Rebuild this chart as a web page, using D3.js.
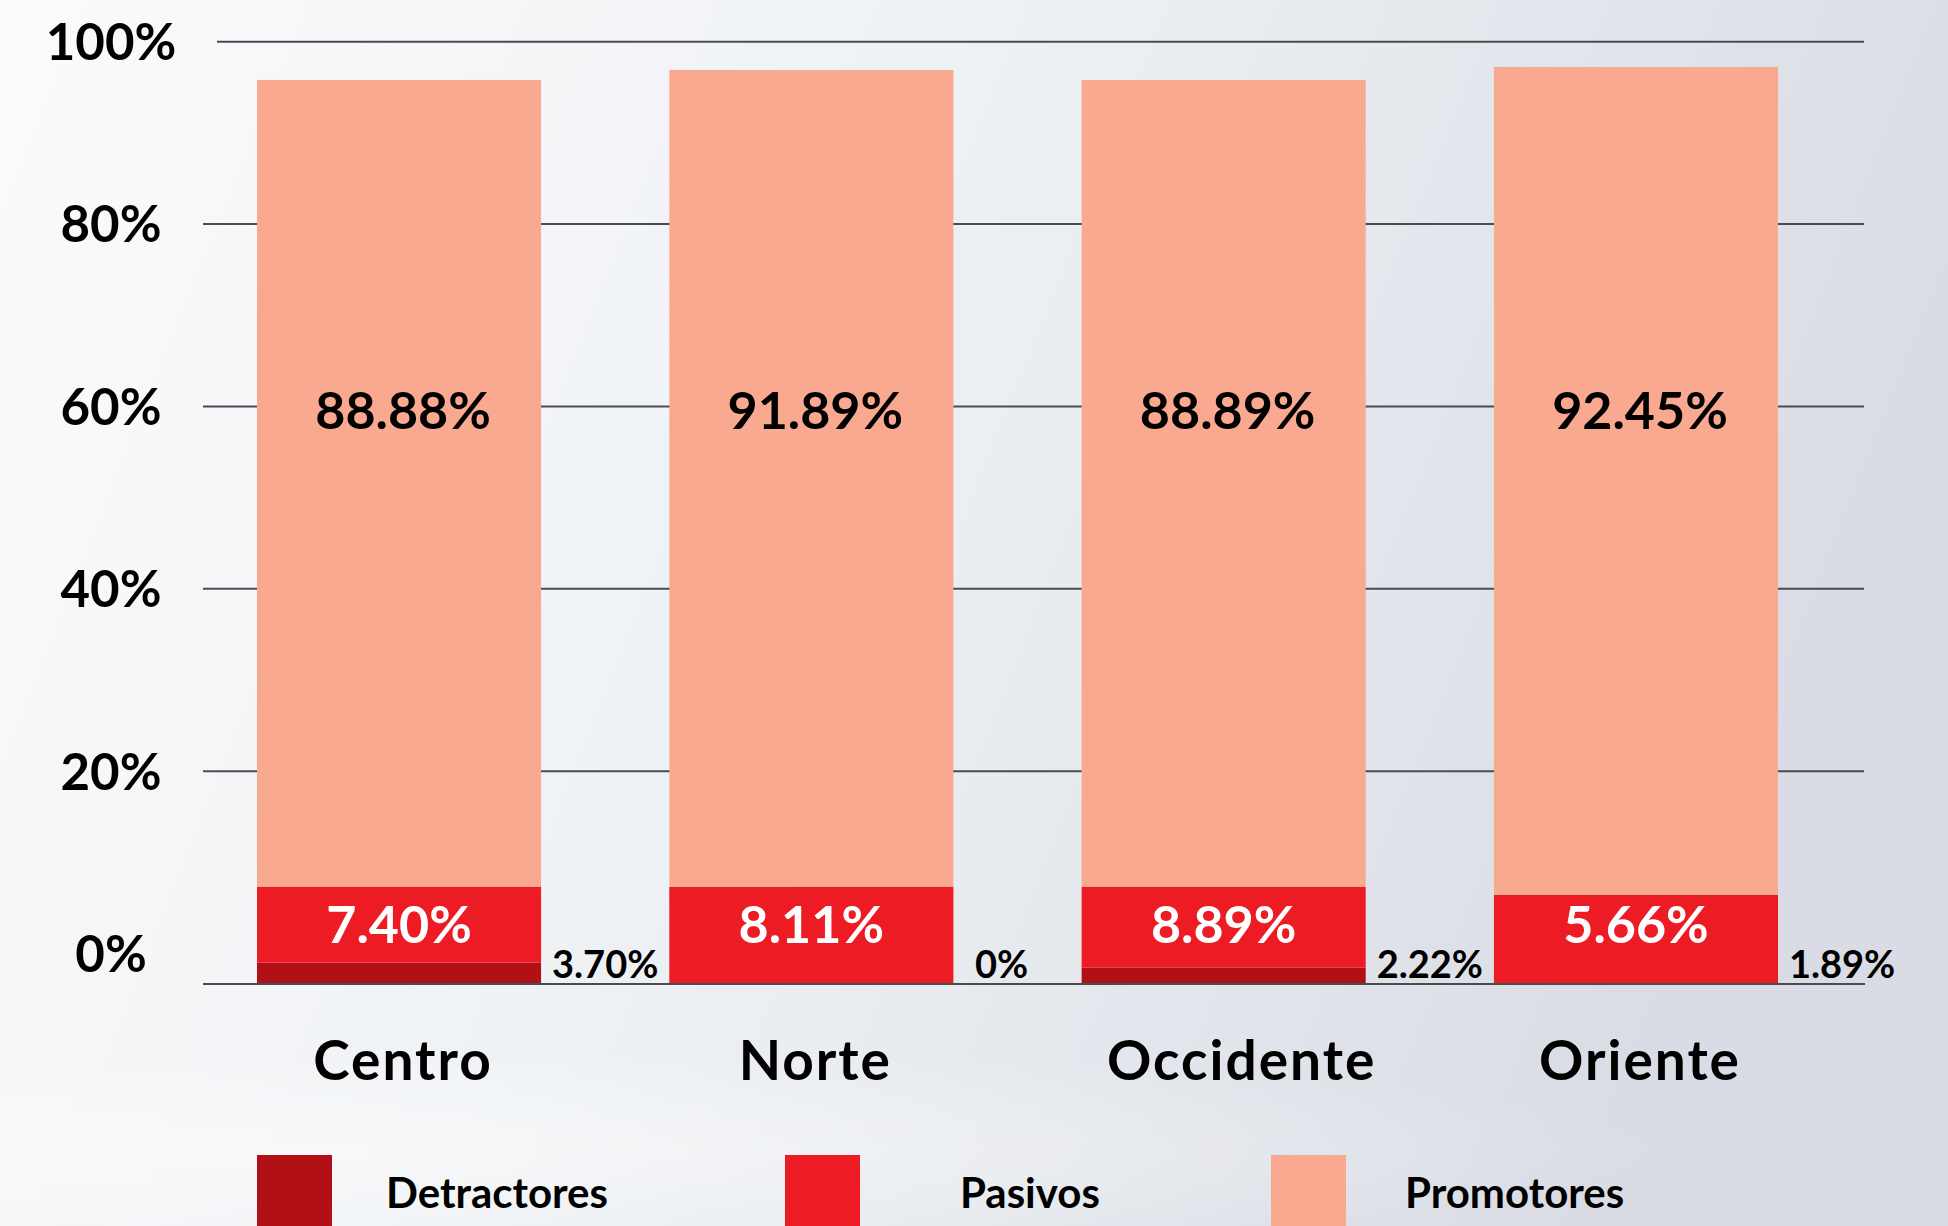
<!DOCTYPE html>
<html>
<head>
<meta charset="utf-8">
<script src="https://cdn.jsdelivr.net/npm/d3@7"></script>
<style>
  html, body { margin: 0; padding: 0; overflow: hidden; }
  svg { display: block; }
  text { font-family: Lato, "Open Sans", sans-serif; font-weight: 700; }
</style>
</head>
<body>
<svg id="chart" width="1948" height="1226"></svg>
<script>
// ---- data ----
const categories = ["Centro", "Norte", "Occidente", "Oriente"];
const seriesNames = ["Detractores", "Pasivos", "Promotores"];
// printed values (labels)
const detractoresLabel = [3.70, 0, 2.22, 1.89];
const pasivosLabel = [7.40, 8.11, 8.89, 5.66];
const promotoresLabel = [88.88, 91.89, 88.89, 92.45];
// bar segment heights as drawn in the picture (%)
const detractores = [2.34, 0, 1.79, 0];
const pasivos = [8.34, 10.67, 8.88, 9.79];
const promotores = [88.47, 89.57, 88.47, 90.78];
const tickValues = [0, 20, 40, 60, 80, 100];
const tickLabels = ["0%", "20%", "40%", "60%", "80%", "100%"];
const colors = ["#B11116", "#ED1C24", "#F9A98F"];

const svg = d3.select("#chart");
const W = 1948, H = 1226;

// background gradient
const defs = svg.append("defs");
const bg = defs.append("linearGradient").attr("id", "bg").attr("x1", "0").attr("y1", "0").attr("x2", "1").attr("y2", "0.25");
bg.append("stop").attr("offset", "0%").attr("stop-color", "#fbfbfc");
bg.append("stop").attr("offset", "45%").attr("stop-color", "#eff2f5");
bg.append("stop").attr("offset", "100%").attr("stop-color", "#d9dce4");
svg.append("rect").attr("width", W).attr("height", H).attr("fill", "url(#bg)");
const glow = defs.append("radialGradient").attr("id", "glow").attr("cx", "0.35").attr("cy", "0.5").attr("r", "0.6");
glow.append("stop").attr("offset", "0%").attr("stop-color", "#ffffff").attr("stop-opacity", 0.45);
glow.append("stop").attr("offset", "100%").attr("stop-color", "#ffffff").attr("stop-opacity", 0);
svg.append("ellipse").attr("cx", 700).attr("cy", 1150).attr("rx", 1100).attr("ry", 90).attr("fill", "url(#glow)");

// scales
const x = d3.scaleBand().domain(categories).range([133.3, 1901.7]).paddingInner(0.311).paddingOuter(0.3);
const yAxis = d3.scaleLinear().domain([0, 100]).range([953.5, 41.7]);
const yBar = d3.scaleLinear().domain([0, 100]).range([984, 72.2]);
const gridX0 = 203, gridX1 = 1864;

// gridlines
svg.append("g").selectAll("line").data(tickValues.filter(t => t > 0)).join("line")
  .attr("x1", d => d === 100 ? 217 : gridX0).attr("x2", gridX1)
  .attr("y1", d => yAxis(d)).attr("y2", d => yAxis(d))
  .attr("stroke", "#4a4c50").attr("stroke-width", 2);

// tick labels
svg.append("g").selectAll("text").data(tickValues).join("text")
  .attr("x", 111).attr("y", d => yAxis(d))
  .attr("dy", "0.36em")
  .attr("text-anchor", "middle")
  .attr("font-size", 51).attr("fill", "#000")
  .text((d, i) => tickLabels[i]);

// stacked bars
const rows = categories.map((c, i) => ({ cat: c, Detractores: detractores[i], Pasivos: pasivos[i], Promotores: promotores[i] }));
const stack = d3.stack().keys(seriesNames)(rows);
svg.append("g").selectAll("g").data(stack).join("g")
  .attr("fill", (d, i) => colors[i])
  .selectAll("rect").data(d => d).join("rect")
  .attr("x", d => x(d.data.cat))
  .attr("width", x.bandwidth())
  .attr("y", d => yBar(d[1]))
  .attr("height", d => Math.max(0, yBar(d[0]) - yBar(d[1])));

// bottom axis line
svg.append("line").attr("x1", gridX0).attr("x2", 1865)
  .attr("y1", yBar(0)).attr("y2", yBar(0))
  .attr("stroke", "#4a4c50").attr("stroke-width", 2);

const fmt = v => v === 0 ? "0%" : v.toFixed(2) + "%";
const step = x.step();

// promotores labels
svg.append("g").selectAll("text").data(categories).join("text")
  .attr("x", d => x(d) + x.bandwidth() / 2 + 4)
  .attr("y", yAxis(60) + 4).attr("dy", "0.36em")
  .attr("text-anchor", "middle").attr("font-size", 52).attr("fill", "#000")
  .text((d, i) => fmt(promotoresLabel[i]));

// pasivos labels
svg.append("g").selectAll("text").data(categories).join("text")
  .attr("x", d => x(d) + x.bandwidth() / 2)
  .attr("y", yBar(6.5)).attr("dy", "0.36em")
  .attr("text-anchor", "middle").attr("font-size", 52).attr("fill", "#fff")
  .text((d, i) => fmt(pasivosLabel[i]));

// detractores labels (beside bars)
svg.append("g").selectAll("text").data(categories).join("text")
  .attr("x", (d, i) => x(d) + x.bandwidth() + (step - x.bandwidth()) / 2 - (detractoresLabel[i] === 0 ? 16 : 0))
  .attr("y", yBar(0) - 6)
  .attr("text-anchor", "middle").attr("font-size", 38).attr("fill", "#000")
  .text((d, i) => fmt(detractoresLabel[i]));

// category labels
svg.append("g").selectAll("text").data(categories).join("text")
  .attr("x", d => x(d) + x.bandwidth() / 2 + (d === "Occidente" ? 18 : 4))
  .attr("y", 1080)
  .attr("text-anchor", "middle").attr("font-size", 55).attr("letter-spacing", 2).attr("fill", "#000")
  .text(d => d);

// legend
const legendX = [257, 785, 1271];
const legendTextX = [386, 960, 1405];
const lg = svg.append("g").selectAll("g").data(seriesNames).join("g");
lg.append("rect").attr("x", (d, i) => legendX[i]).attr("y", 1155).attr("width", 75).attr("height", 80)
  .attr("fill", (d, i) => colors[i]);
lg.append("text").attr("x", (d, i) => legendTextX[i]).attr("y", 1208)
  .attr("font-size", 42).attr("fill", "#000").text(d => d);
</script>
</body>
</html>
